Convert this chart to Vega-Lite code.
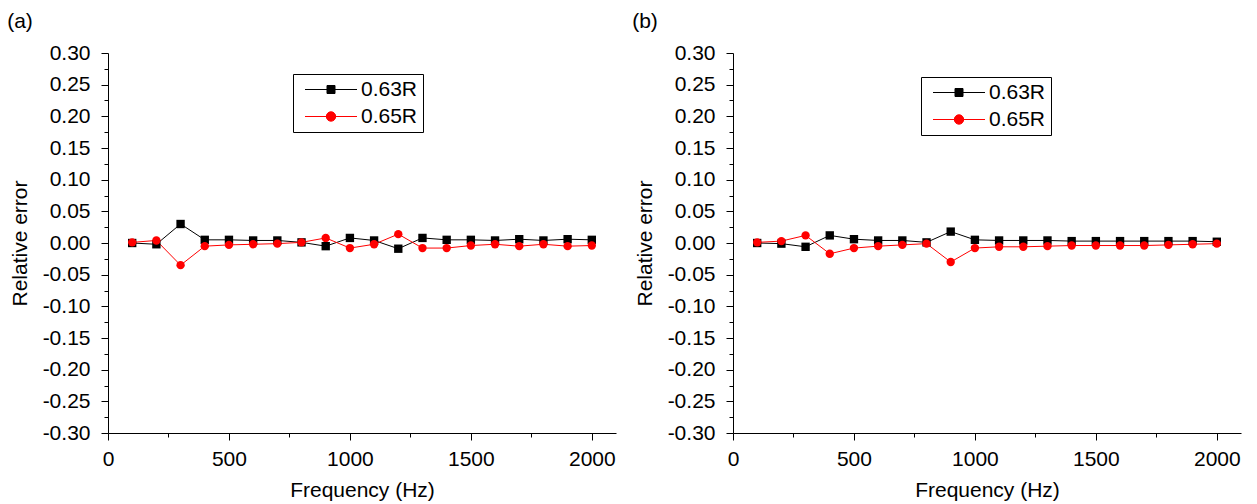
{
  "$schema": "https://vega.github.io/schema/vega-lite/v6.json",
  "background": "white",
  "padding": {"left": 7, "top": 11, "right": 5, "bottom": 5},
  "spacing": 16,
  "resolve": {"legend": {"color": "independent"}},
  "config": {
    "font": "Liberation Sans",
    "view": {"stroke": null},
    "axis": {
      "labelFont": "Liberation Sans", "titleFont": "Liberation Sans",
      "labelFontSize": 21, "titleFontSize": 21, "titleFontWeight": "normal",
      "labelColor": "#000", "titleColor": "#000", "domainColor": "#000", "tickColor": "#000",
      "grid": false, "domainWidth": 1, "tickWidth": 1
    },
    "title": {"font": "Liberation Sans", "fontSize": 21, "fontWeight": "normal", "color": "#000", "anchor": "start", "offset": 10},
    "legend": {
      "orient": "none", "title": null,
      "strokeColor": "#000", "fillColor": "white", "padding": 5,
      "labelFont": "Liberation Sans", "labelFontSize": 21, "labelColor": "#000",
      "symbolSize": 100, "symbolOffset": 22.5, "labelOffset": 19.5, "rowPadding": 5,
      "symbolStrokeWidth": 1
    }
  },
  "datasets": {
    "a": [
      {"f": 100, "s": "0.63R", "e": 0}, {"f": 200, "s": "0.63R", "e": -0.002}, {"f": 300, "s": "0.63R", "e": 0.030},
      {"f": 400, "s": "0.63R", "e": 0.005}, {"f": 500, "s": "0.63R", "e": 0.005}, {"f": 600, "s": "0.63R", "e": 0.004},
      {"f": 700, "s": "0.63R", "e": 0.004}, {"f": 800, "s": "0.63R", "e": 0.001}, {"f": 900, "s": "0.63R", "e": -0.005},
      {"f": 1000, "s": "0.63R", "e": 0.008}, {"f": 1100, "s": "0.63R", "e": 0.004}, {"f": 1200, "s": "0.63R", "e": -0.009},
      {"f": 1300, "s": "0.63R", "e": 0.008}, {"f": 1400, "s": "0.63R", "e": 0.005}, {"f": 1500, "s": "0.63R", "e": 0.005},
      {"f": 1600, "s": "0.63R", "e": 0.004}, {"f": 1700, "s": "0.63R", "e": 0.006}, {"f": 1800, "s": "0.63R", "e": 0.004},
      {"f": 1900, "s": "0.63R", "e": 0.006}, {"f": 2000, "s": "0.63R", "e": 0.005},
      {"f": 100, "s": "0.65R", "e": 0.001}, {"f": 200, "s": "0.65R", "e": 0.004}, {"f": 300, "s": "0.65R", "e": -0.035},
      {"f": 400, "s": "0.65R", "e": -0.005}, {"f": 500, "s": "0.65R", "e": -0.003}, {"f": 600, "s": "0.65R", "e": -0.002},
      {"f": 700, "s": "0.65R", "e": -0.001}, {"f": 800, "s": "0.65R", "e": 0.001}, {"f": 900, "s": "0.65R", "e": 0.008},
      {"f": 1000, "s": "0.65R", "e": -0.008}, {"f": 1100, "s": "0.65R", "e": -0.002}, {"f": 1200, "s": "0.65R", "e": 0.014},
      {"f": 1300, "s": "0.65R", "e": -0.008}, {"f": 1400, "s": "0.65R", "e": -0.008}, {"f": 1500, "s": "0.65R", "e": -0.004},
      {"f": 1600, "s": "0.65R", "e": -0.002}, {"f": 1700, "s": "0.65R", "e": -0.005}, {"f": 1800, "s": "0.65R", "e": -0.002},
      {"f": 1900, "s": "0.65R", "e": -0.005}, {"f": 2000, "s": "0.65R", "e": -0.004}
    ],
    "b": [
      {"f": 100, "s": "0.63R", "e": 0}, {"f": 200, "s": "0.63R", "e": -0.001}, {"f": 300, "s": "0.63R", "e": -0.006},
      {"f": 400, "s": "0.63R", "e": 0.012}, {"f": 500, "s": "0.63R", "e": 0.006}, {"f": 600, "s": "0.63R", "e": 0.004},
      {"f": 700, "s": "0.63R", "e": 0.004}, {"f": 800, "s": "0.63R", "e": 0.001}, {"f": 900, "s": "0.63R", "e": 0.018},
      {"f": 1000, "s": "0.63R", "e": 0.005}, {"f": 1100, "s": "0.63R", "e": 0.004}, {"f": 1200, "s": "0.63R", "e": 0.004},
      {"f": 1300, "s": "0.63R", "e": 0.004}, {"f": 1400, "s": "0.63R", "e": 0.003}, {"f": 1500, "s": "0.63R", "e": 0.003},
      {"f": 1600, "s": "0.63R", "e": 0.003}, {"f": 1700, "s": "0.63R", "e": 0.003}, {"f": 1800, "s": "0.63R", "e": 0.003},
      {"f": 1900, "s": "0.63R", "e": 0.003}, {"f": 2000, "s": "0.63R", "e": 0.002},
      {"f": 100, "s": "0.65R", "e": 0.001}, {"f": 200, "s": "0.65R", "e": 0.003}, {"f": 300, "s": "0.65R", "e": 0.012},
      {"f": 400, "s": "0.65R", "e": -0.017}, {"f": 500, "s": "0.65R", "e": -0.008}, {"f": 600, "s": "0.65R", "e": -0.005},
      {"f": 700, "s": "0.65R", "e": -0.003}, {"f": 800, "s": "0.65R", "e": -0.001}, {"f": 900, "s": "0.65R", "e": -0.030},
      {"f": 1000, "s": "0.65R", "e": -0.008}, {"f": 1100, "s": "0.65R", "e": -0.006}, {"f": 1200, "s": "0.65R", "e": -0.006},
      {"f": 1300, "s": "0.65R", "e": -0.005}, {"f": 1400, "s": "0.65R", "e": -0.004}, {"f": 1500, "s": "0.65R", "e": -0.004},
      {"f": 1600, "s": "0.65R", "e": -0.004}, {"f": 1700, "s": "0.65R", "e": -0.004}, {"f": 1800, "s": "0.65R", "e": -0.003},
      {"f": 1900, "s": "0.65R", "e": -0.002}, {"f": 2000, "s": "0.65R", "e": -0.001}
    ]
  },
  "hconcat": [
    {
      "title": {"text": "(a)", "dx": -2},
      "width": 508, "height": 380,
      "data": {"name": "a"},
      "encoding": {
        "x": {"field": "f", "type": "quantitative", "title": "Frequency (Hz)",
          "scale": {"domain": [0, 2100], "nice": false, "zero": false},
          "axis": {"values": [0, 250, 500, 750, 1000, 1250, 1500, 1750, 2000],
            "labelExpr": "datum.value % 500 === 0 ? datum.label : ''",
            "format": "d",
            "tickSize": {"condition": {"test": "datum.value % 500 === 0", "value": 7}, "value": 4},
            "labelPadding": 8, "titlePadding": 10, "labelFlush": false}},
        "y": {"field": "e", "type": "quantitative", "title": "Relative error",
          "scale": {"domain": [-0.3, 0.3], "nice": false, "zero": false},
          "axis": {"values": [-0.3, -0.275, -0.25, -0.225, -0.2, -0.175, -0.15, -0.125, -0.1, -0.075, -0.05, -0.025, 0, 0.025, 0.05, 0.075, 0.1, 0.125, 0.15, 0.175, 0.2, 0.225, 0.25, 0.275, 0.3],
            "labelExpr": "abs(round(datum.value*40)) % 2 === 0 ? ((datum.value < -0.001 ? '-' : '') + format(abs(datum.value), '.2f')) : ''",
            "tickSize": {"condition": {"test": "abs(round(datum.value*40)) % 2 === 0", "value": 7}, "value": 4},
            "labelPadding": 11, "titlePadding": 12, "labelFlush": false}},
        "color": {"field": "s", "type": "nominal",
          "scale": {"domain": ["0.63R", "0.65R"], "range": ["#000000", "#ff0000"]},
          "legend": {"legendX": 185, "legendY": 21,
            "labelExpr": "datum.label + '\u00a0'",
            "encode": {"symbols": {"update": {
              "shape": {"signal": "datum.value === '0.63R' ? 'M-5.2,0H5.2M-0.8,-0.8H0.8V0.8H-0.8Z' : 'M-5.2,0H5.2M0.94,0A0.94,0.94 0 1,1 -0.94,0A0.94,0.94 0 1,1 0.94,0Z'"},
              "fill": {"signal": "datum.value === '0.63R' ? '#000000' : '#ff0000'"},
              "stroke": {"signal": "datum.value === '0.63R' ? '#000000' : '#ff0000'"},
              "strokeWidth": {"value": 1},
              "opacity": {"value": 1}}}}}}
      },
      "layer": [
        {"mark": {"type": "line", "strokeWidth": 1}},
        {"mark": {"type": "point", "filled": true, "opacity": 1, "size": 70},
          "encoding": {"shape": {"field": "s", "type": "nominal",
            "scale": {"domain": ["0.63R", "0.65R"], "range": ["square", "circle"]}, "legend": null}}}
      ]
    },
    {
      "title": {"text": "(b)", "dx": -2},
      "width": 508, "height": 380,
      "data": {"name": "b"},
      "encoding": {
        "x": {"field": "f", "type": "quantitative", "title": "Frequency (Hz)",
          "scale": {"domain": [0, 2100], "nice": false, "zero": false},
          "axis": {"values": [0, 250, 500, 750, 1000, 1250, 1500, 1750, 2000],
            "labelExpr": "datum.value % 500 === 0 ? datum.label : ''",
            "format": "d",
            "tickSize": {"condition": {"test": "datum.value % 500 === 0", "value": 7}, "value": 4},
            "labelPadding": 8, "titlePadding": 10, "labelFlush": false}},
        "y": {"field": "e", "type": "quantitative", "title": "Relative error",
          "scale": {"domain": [-0.3, 0.3], "nice": false, "zero": false},
          "axis": {"values": [-0.3, -0.275, -0.25, -0.225, -0.2, -0.175, -0.15, -0.125, -0.1, -0.075, -0.05, -0.025, 0, 0.025, 0.05, 0.075, 0.1, 0.125, 0.15, 0.175, 0.2, 0.225, 0.25, 0.275, 0.3],
            "labelExpr": "abs(round(datum.value*40)) % 2 === 0 ? ((datum.value < -0.001 ? '-' : '') + format(abs(datum.value), '.2f')) : ''",
            "tickSize": {"condition": {"test": "abs(round(datum.value*40)) % 2 === 0", "value": 7}, "value": 4},
            "labelPadding": 11, "titlePadding": 12, "labelFlush": false}},
        "color": {"field": "s", "type": "nominal",
          "scale": {"domain": ["0.63R", "0.65R"], "range": ["#000000", "#ff0000"]},
          "legend": {"legendX": 188, "legendY": 24,
            "labelExpr": "datum.label + '\u00a0'",
            "encode": {"symbols": {"update": {
              "shape": {"signal": "datum.value === '0.63R' ? 'M-5.2,0H5.2M-0.8,-0.8H0.8V0.8H-0.8Z' : 'M-5.2,0H5.2M0.94,0A0.94,0.94 0 1,1 -0.94,0A0.94,0.94 0 1,1 0.94,0Z'"},
              "fill": {"signal": "datum.value === '0.63R' ? '#000000' : '#ff0000'"},
              "stroke": {"signal": "datum.value === '0.63R' ? '#000000' : '#ff0000'"},
              "strokeWidth": {"value": 1},
              "opacity": {"value": 1}}}}}}
      },
      "layer": [
        {"mark": {"type": "line", "strokeWidth": 1}},
        {"mark": {"type": "point", "filled": true, "opacity": 1, "size": 70},
          "encoding": {"shape": {"field": "s", "type": "nominal",
            "scale": {"domain": ["0.63R", "0.65R"], "range": ["square", "circle"]}, "legend": null}}}
      ]
    }
  ]
}
